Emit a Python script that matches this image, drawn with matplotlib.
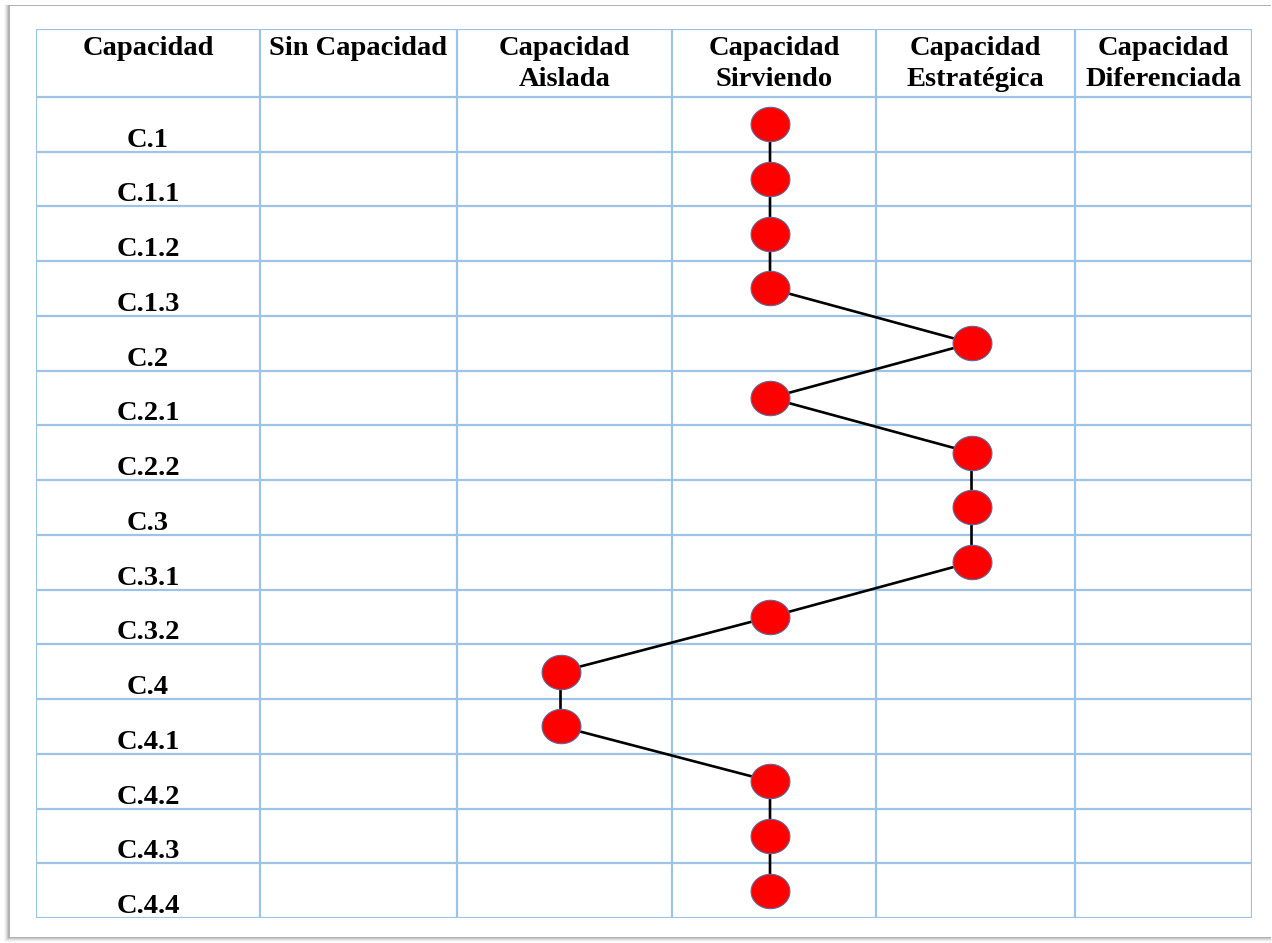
import numpy as np
import matplotlib
matplotlib.use('Agg')
import matplotlib.pyplot as plt
from matplotlib.patches import Rectangle
from matplotlib.path import Path

# column headers of the table (first column holds the capacity codes)
headers = ['Capacidad', 'Sin Capacidad', 'Capacidad\nAislada', 'Capacidad\nSirviendo',
           'Capacidad\nEstratégica', 'Capacidad\nDiferenciada']
# levels, in the same order as the header columns 1..5
levels = ['Sin Capacidad', 'Aislada', 'Sirviendo', 'Estratégica', 'Diferenciada']

capacidades = ['C.1', 'C.1.1', 'C.1.2', 'C.1.3', 'C.2', 'C.2.1', 'C.2.2', 'C.3',
               'C.3.1', 'C.3.2', 'C.4', 'C.4.1', 'C.4.2', 'C.4.3', 'C.4.4']
nivel = ['Sirviendo', 'Sirviendo', 'Sirviendo', 'Sirviendo', 'Estratégica',
         'Sirviendo', 'Estratégica', 'Estratégica', 'Estratégica', 'Sirviendo',
         'Aislada', 'Aislada', 'Sirviendo', 'Sirviendo', 'Sirviendo']

# table layout (pixel widths of the columns, header height in row units)
col_widths = [224, 197, 215, 204, 199, 177]
header_h = 1.24
grid_col = '#9DC3E6'
serif = ['Liberation Serif', 'DejaVu Serif']

fig = plt.figure(figsize=(12.72, 9.43), dpi=100)
W, H = 1272, 943

# page with a soft shadow
for i, a in enumerate([0.05, 0.08, 0.12, 0.18, 0.25]):
    off = 5 - i
    fig.patches.append(Rectangle(((9 - off) / W, (6 - off) / H), (1262 + off) / W, (932 + off) / H,
                                 transform=fig.transFigure, facecolor='#707070',
                                 alpha=a, edgecolor='none', zorder=-3))
fig.patches.append(Rectangle((10 / W, 6 / H), 1262 / W, 931 / H, transform=fig.transFigure,
                             facecolor='white', edgecolor='none', zorder=-2))

ax = fig.add_axes([36 / W, 25 / H, 1216 / W, 889 / H])
ax.set_zorder(1)
ax.set_facecolor('none')
edges = np.concatenate([[0], np.cumsum(col_widths)])
n = len(capacidades)
ax.set_xlim(edges[0], edges[-1])
ax.set_ylim(n, -header_h)
ax.axis('off')

# grid
for x in edges:
    ax.plot([x, x], [-header_h, n], color=grid_col, lw=1.6, zorder=1, solid_capstyle='butt')
for y in np.concatenate([[-header_h], np.arange(0, n + 1)]):
    ax.plot([edges[0], edges[-1]], [y, y], color=grid_col, lw=1.6, zorder=1, solid_capstyle='butt')

# header text
for k, h in enumerate(headers):
    cx = (edges[k] + edges[k + 1]) / 2
    ax.text(cx, -header_h + 0.12, h, ha='center', va='top', fontsize=20.5,
            fontweight='bold', family=serif, linespacing=1.35, color='black')

# capacity codes
for i, c in enumerate(capacidades):
    ax.text(edges[1] / 2, i + 0.79, c, ha='center', va='center', fontsize=20.5,
            fontweight='bold', family=serif, color='black')

# profile line
xs = [(edges[levels.index(v) + 1] + edges[levels.index(v) + 2]) / 2 - 4 for v in nivel]
ys = np.arange(n) + 0.5
t = np.linspace(0, 2 * np.pi, 60)
oval = Path(np.column_stack([1.13 * np.cos(t), np.sin(t)]), closed=True)
ax.plot(xs, ys, color='black', lw=1.9, zorder=2)
ax.plot(xs, ys, linestyle='none', marker=oval, markersize=28, markerfacecolor='#FF0000',
        markeredgecolor='#5B6B9B', markeredgewidth=0.8, zorder=3)

fig.savefig('out.png', dpi=100)
